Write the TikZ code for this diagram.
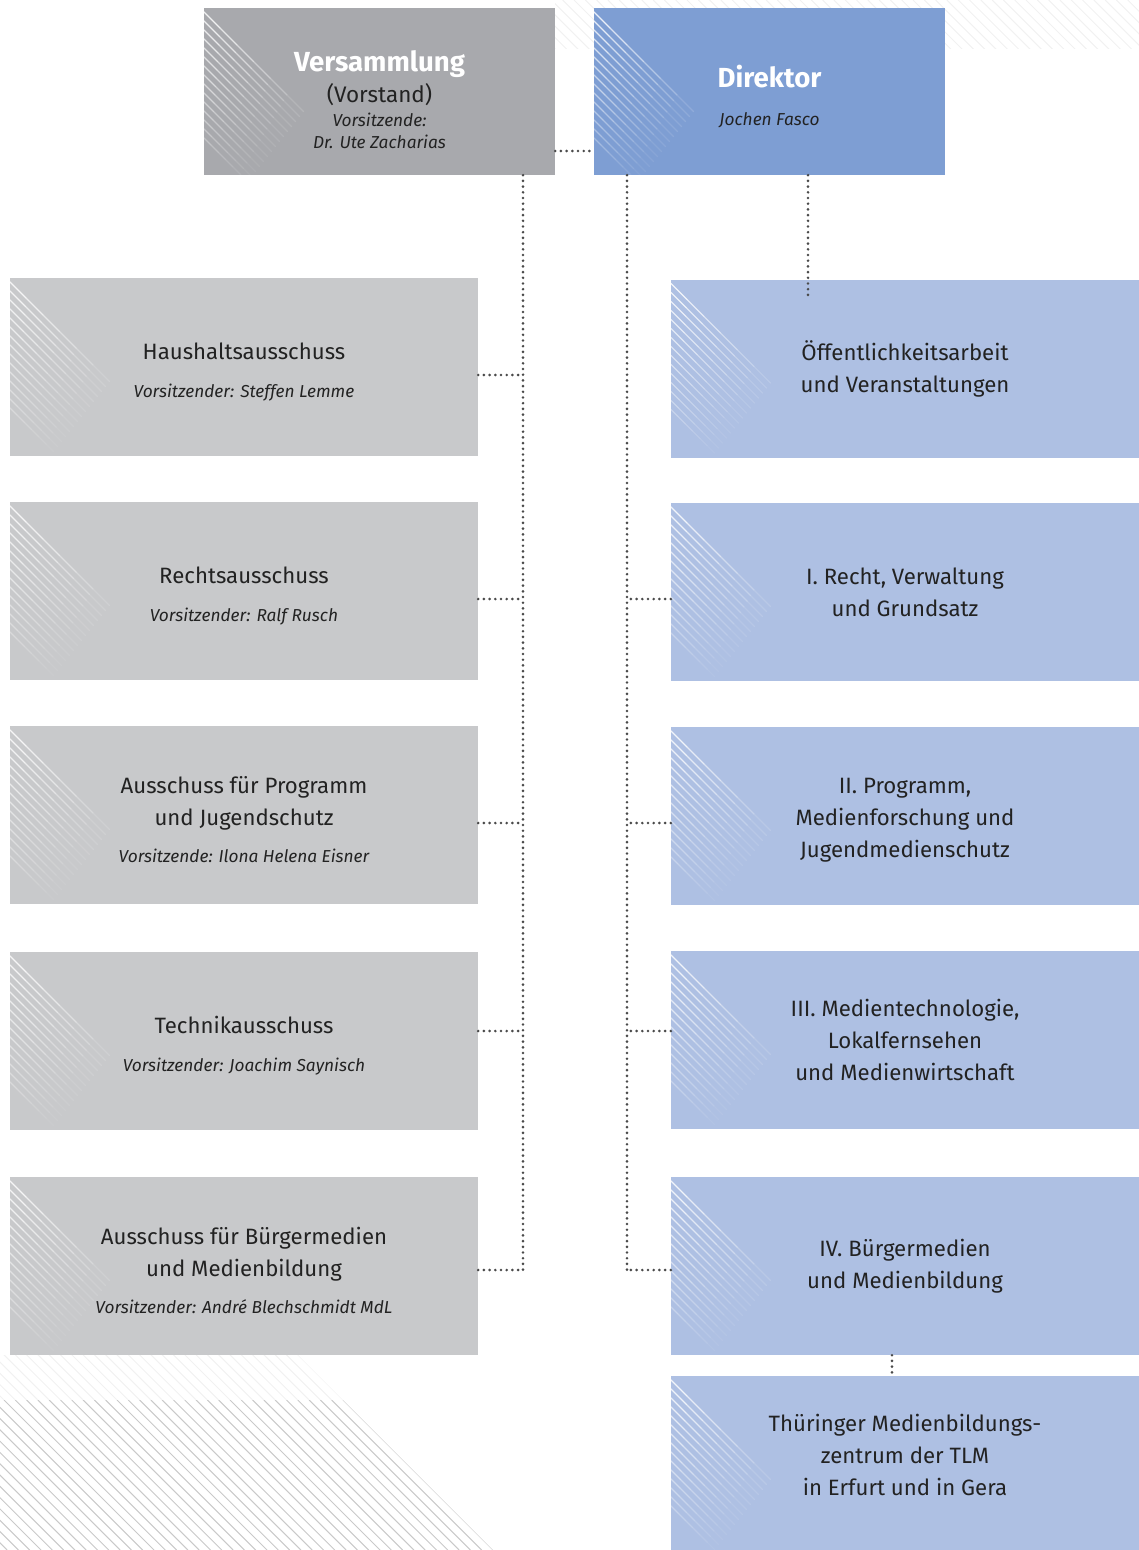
\documentclass[tikz,border=0pt]{standalone}
\usepackage{fontspec}
\setmainfont{Fira Sans}
\usetikzlibrary{calc}

\definecolor{gremgrau}{HTML}{A8A9AD}
\definecolor{ausgrau}{HTML}{C8C9CB}
\definecolor{dirblau}{HTML}{7E9ED3}
\definecolor{amtblau}{HTML}{AEC0E3}
\definecolor{tinte}{HTML}{222222}
\definecolor{punkt}{HTML}{4A4A4A}
\definecolor{streifgrau}{HTML}{C9C9C9}
\definecolor{hauchgrau}{HTML}{F1F1F1}

\newcommand{\vors}[1]{{\fontsize{17.3}{20}\selectfont\itshape #1}}
\newcommand{\oben}[1]{\rule{0pt}{#1}}
\newcommand{\unten}[1]{\rule[-#1]{0pt}{#1}}

% white fading stripes in the upper left corner of a box
\newcommand{\eckstreifen}[1]{%
  \begin{scope}
    \clip (#1.north west) rectangle (#1.south east);
    \foreach \i in {0,...,14} {
      \foreach \k in {0,...,5} {
        \pgfmathsetmacro{\slen}{100-4*\i}
        \pgfmathsetmacro{\sa}{\k*\slen/6}
        \pgfmathsetmacro{\sb}{(\k+1)*\slen/6}
        \pgfmathsetmacro{\sop}{0.85*(1-\k/6)*(1-\i/22)}
        \draw [white, line width=1.2, opacity=\sop]
          ($(#1.north west)+(\sa,4+9*\i+\sa)$) -- ($(#1.north west)+(\sb,4+9*\i+\sb)$);
      }
    }
  \end{scope}}

\tikzset{
  ausschuss/.style={fill=ausgrau, minimum width=468, minimum height=178,
    inner sep=0, align=center, text=tinte, font=\fontsize{22.2}{32}\selectfont},
  stelle/.style={ausschuss, fill=amtblau},
  kopf/.style={minimum width=351, minimum height=167, inner sep=0, align=center,
    text=tinte, font=\fontsize{22.5}{24}\selectfont},
  linie/.style={punkt, line width=2.9, line cap=round, dash pattern=on 0pt off 5.7pt},
}

\begin{document}
\begin{tikzpicture}[x=1pt, y=-1pt]
  \useasboundingbox (0,0) rectangle (1139,1550);

  % background stripes
  \begin{scope}
    \clip (555,0) rectangle (1139,48);
    \foreach \n in {0,...,60}
      \draw [hauchgrau, line width=1] (1139-11.3*\n,0) -- ++(60,60);
  \end{scope}
  \begin{scope}
    \clip (0,1355) -- (298,1355) -- (343,1400) -- (0,1400) -- cycle;
    \foreach \n in {0,...,40}
      \draw [hauchgrau, line width=1] (343-11.3*\n,1400) -- ++(-60,-60);
  \end{scope}
  \begin{scope}
    \clip (0,1400) -- (343,1400) -- (493,1550) -- (0,1550) -- cycle;
    \foreach \n in {0,...,45}
      \draw [streifgrau, line width=1] (343-11.3*\n,1400) -- ++(150,150);
  \end{scope}

  % top
  \node [kopf, fill=gremgrau] (vers) at (379.5,91.5) {%
    \oben{38pt}{\fontsize{27.6}{29}\selectfont\bfseries\color{white}Versammlung}\\[5pt]
    (Vorstand)\\[0pt]
    \vors{Vorsitzende:}\\[-2pt]
    \vors{Dr. Ute Zacharias}};
  \node [kopf, fill=dirblau] (dir) at (769.5,91.5) {%
    \oben{32pt}{\fontsize{27.6}{29}\selectfont\bfseries\color{white}Direktor}\\[14pt]
    \vors{Jochen Fasco}};

  % committees
  \node [ausschuss] (haus) at (244,367) {\oben{26pt}Haushaltsausschuss\\[6pt]
    \vors{Vorsitzender: Steffen Lemme}};
  \node [ausschuss] (recht) at (244,591) {\oben{26pt}Rechtsausschuss\\[6pt]
    \vors{Vorsitzender: Ralf Rusch}};
  \node [ausschuss] (prog) at (244,815) {\oben{26pt}Ausschuss für Programm\\
    und Jugendschutz\\[5pt]
    \vors{Vorsitzende: Ilona Helena Eisner}};
  \node [ausschuss] (tech) at (244,1041) {\oben{26pt}Technikausschuss\\[6pt]
    \vors{Vorsitzender: Joachim Saynisch}};
  \node [ausschuss] (buerg) at (244,1266) {\oben{26pt}Ausschuss für Bürgermedien\\
    und Medienbildung\\[5pt]
    \vors{Vorsitzender: André Blechschmidt MdL}};

  % departments
  \node [stelle] (oeff) at (905,368.5) {Öffentlichkeitsarbeit\\und Veranstaltungen};
  \node [stelle] (abt1) at (905,592) {I. Recht, Verwaltung\\und Grundsatz};
  \node [stelle] (abt2) at (905,816) {\oben{24pt}II. Programm,\\Medienforschung und\\Jugendmedienschutz};
  \node [stelle] (abt3) at (905,1040) {III. Medientechnologie,\\Lokalfernsehen\\und Medienwirtschaft};
  \node [stelle] (abt4) at (905,1266) {IV. Bürgermedien\\und Medienbildung};
  \node [stelle, minimum height=174] (zent) at (905,1463) {Thüringer Medienbildungs-\\zentrum der TLM\\in Erfurt und in Gera\unten{16pt}};

  \foreach \kasten in {vers,dir,haus,recht,prog,tech,buerg,oeff,abt1,abt2,abt3,abt4,zent}
    \eckstreifen{\kasten};

  % trunks
  \coordinate (vfuss) at (523,1270);
  \coordinate (dfuss) at (627,1270);
  \draw [linie] (vers.south -| vfuss) -- (vfuss);
  \draw [linie] (dir.south -| dfuss) -- (dfuss);
  \draw [linie] (vers.east |- 0,151) -- (dir.west |- 0,151);
  \draw [linie] (dir.south -| 808,0) -- (oeff.north -| 808,0) -- ++(0,16);
  \draw [linie] (abt4.south -| 892,0) -- (zent.north -| 892,0);

  % branches
  \draw [linie] (haus.east |- 0,375) -- (523,375);
  \draw [linie] (recht.east |- 0,599) -- (523,599);
  \draw [linie] (prog.east |- 0,823) -- (523,823);
  \draw [linie] (tech.east |- 0,1031) -- (523,1031);
  \draw [linie] (buerg.east |- vfuss) -- (vfuss);

  \draw [linie] (abt1.west |- 0,599) -- (627,599);
  \draw [linie] (abt2.west |- 0,823) -- (627,823);
  \draw [linie] (abt3.west |- 0,1031) -- (627,1031);
  \draw [linie] (abt4.west |- dfuss) -- (dfuss);
\end{tikzpicture}
\end{document}
